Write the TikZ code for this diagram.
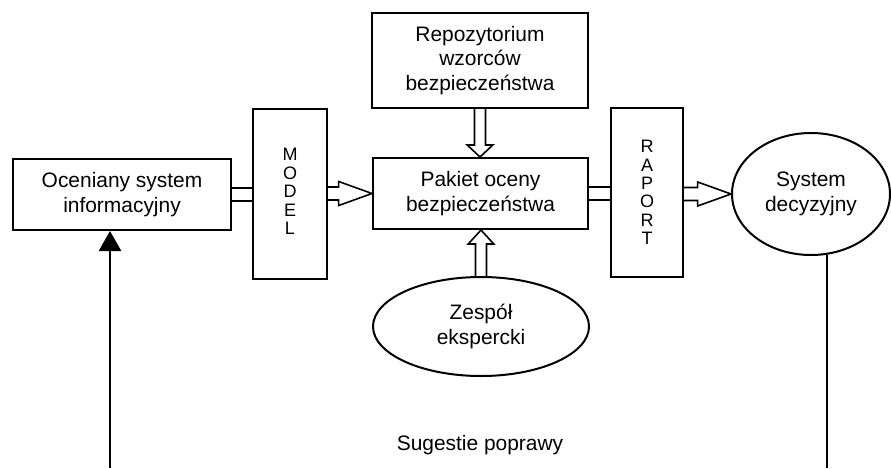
\documentclass[tikz,border=0pt]{standalone}
\usepackage{fontspec}
\setmainfont{Liberation Sans}
\usetikzlibrary{arrows.meta,shapes.geometric,calc}

\newcommand\mainlbl{\fontsize{15.7}{18.6}\selectfont}
\newcommand\stacklbl{\fontsize{13.5}{13.8}\selectfont}

\tikzset{
  box/.style={draw, line width=1.5pt, inner sep=0pt, align=center, font=\mainlbl},
  oval/.style={ellipse, draw, line width=1.5pt, inner sep=0pt, align=center, font=\mainlbl},
  stackbox/.style={draw, line width=1.5pt, inner sep=0pt, align=center, font=\stacklbl},
  flow/.style={draw, line width=1.2pt, line join=miter},
  feedback/.style={draw, line width=2pt},
}

% wide hollow arrow pointing right, from #1 to #2, head length #3
\newcommand\hollowright[3]{%
  \draw[flow] let \p1=(#1), \p2=(#2) in
    ({\x1},{\y2+4.9pt}) -- ({\x2-#3},{\y2+4.9pt}) -- ({\x2-#3},{\y2+9pt}) -- (\x2,\y2)
    -- ({\x2-#3},{\y2-9pt}) -- ({\x2-#3},{\y2-4.9pt}) -- ({\x1},{\y2-4.9pt});}

% wide hollow arrow along the vertical, from #1 to #2, signed head length #3
\newcommand\hollowvert[3]{%
  \draw[flow] let \p1=(#1), \p2=(#2) in
    ({\x1-4.1pt},{\y1}) -- ({\x1-4.1pt},{\y2+(#3)}) -- ({\x1-9.6pt},{\y2+(#3)}) -- ({\x1},{\y2})
    -- ({\x1+9.6pt},{\y2+(#3)}) -- ({\x1+4.1pt},{\y2+(#3)}) -- ({\x1+4.1pt},{\y1});}

% pair of parallel lines joining two boxes
\newcommand\twinline[2]{%
  \draw[flow] let \p1=(#1), \p2=(#2) in
    ({\x1},{\y1+4.8pt}) -- ({\x2},{\y1+4.8pt})
    ({\x1},{\y1-4.8pt}) -- ({\x2},{\y1-4.8pt});}

\begin{document}
\begin{tikzpicture}[x=0.75pt,y=-0.75pt]
\useasboundingbox (0,0) rectangle (891,468);

% blocks
\node[box, minimum width=218*0.75pt, minimum height=71*0.75pt] (osi) at (122,194.5)
  {Oceniany system\\informacyjny};
\node[stackbox, minimum width=74*0.75pt, minimum height=170*0.75pt] (model) at (290,194)
  {\raisebox{5pt}{\begin{tabular}{@{}c@{}}M\\O\\D\\E\\L\end{tabular}}};
\node[box, minimum width=216*0.75pt, minimum height=95*0.75pt] (repo) at (480,60.5)
  {Repozytorium\\wzorców\\bezpieczeństwa};
\node[box, minimum width=215*0.75pt, minimum height=71*0.75pt] (pak) at (480.5,193.5)
  {Pakiet oceny\\bezpieczeństwa};
\node[stackbox, minimum width=72*0.75pt, minimum height=169*0.75pt] (rap) at (647,192.5)
  {R\\A\\P\\O\\R\\T};
\node[oval, minimum width=158*0.75pt, minimum height=122*0.75pt] (sys) at (811,194)
  {System\\decyzyjny};
\node[oval, minimum width=216*0.75pt, minimum height=99*0.75pt] (zes) at (481,326.5)
  {Zespół\\ekspercki};
\node[font=\mainlbl] (sug) at (480,445) {Sugestie poprawy};

% flows between blocks
\twinline{osi.east}{model.west}
\hollowright{model.east}{pak.west}{25pt}
\hollowvert{repo.south}{pak.north}{9pt}
\hollowvert{zes.north}{pak.south}{-10.5pt}
\twinline{pak.east}{rap.west}
\hollowright{rap.east}{sys.west}{25pt}

% feedback loop
\coordinate (fbL) at (110,468);
\coordinate (fbR) at (827,468);
\draw[feedback, -{Triangle[length=15pt,width=16.5pt]}] (fbL) -- (fbL |- osi.south);
\draw[feedback] (sys.-75 -| fbR) -- (fbR);
\end{tikzpicture}
\end{document}
